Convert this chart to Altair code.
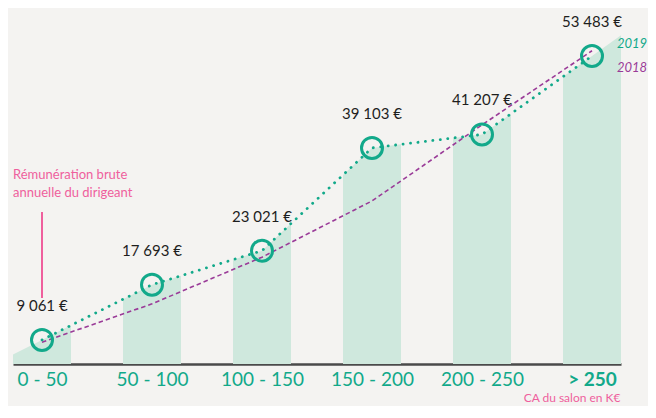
import json
import altair as alt
import pandas as pd

# ---------------- data ----------------
categories = ["0 - 50", "50 - 100", "100 - 150", "150 - 200", "200 - 250", "> 250"]
values_2019 = [9061, 17693, 23021, 39103, 41207, 53483]
values_2018 = [8700, 14700, 22000, 30800, 42700, 54300]
value_labels = ["9 061 €", "17 693 €", "23 021 €", "39 103 €", "41 207 €", "53 483 €"]
series_names = ["2019", "2018"]
annotation_lines = ["Rémunération brute", "annuelle du dirigeant"]
x_title = "CA du salon en K€"

# ---------------- style ----------------
BG = "#f4f3f1"
TEAL = "#12a98a"
AREA = "#cfe8dd"
PURPLE = "#9a3b98"
PINK = "#ef5f9d"
INK = "#1e1e1e"
FONT = "Lato"
HALF = 0.2636          # half width of a column, in category units
YMIN, YMAX = 5289, 60992
W, H = 608, 356

idx = list(range(len(categories)))
n = len(categories)

df = pd.DataFrame({
    "i": idx,
    "cat": categories,
    "v2019": values_2019,
    "v2018": values_2018,
    "lab": value_labels,
})

# column shapes: each column's top follows the 2019 line (slopes of adjacent segments)
rows = []
for i, v in enumerate(values_2019):
    sl = (values_2019[i] - values_2019[i - 1]) if i > 0 else (values_2019[1] - values_2019[0])
    sr = (values_2019[i + 1] - values_2019[i]) if i < n - 1 else (values_2019[-1] - values_2019[-2])
    rows.append({"bar": i, "x": i - HALF, "y": v - sl * HALF})
    rows.append({"bar": i, "x": i, "y": v})
    rows.append({"bar": i, "x": i + HALF, "y": v + sr * HALF})
area_df = pd.DataFrame(rows)

xs = alt.Scale(domain=[-HALF, n - 1 + HALF], nice=False, zero=False)
ys = alt.Scale(domain=[YMIN, YMAX], nice=False, zero=False)

label_expr = json.dumps(categories) + "[datum.value]"

x_axis = alt.Axis(
    values=idx,
    labelExpr=label_expr,
    labelColor=TEAL,
    labelFont=FONT,
    labelFontSize=19,
    labelFontWeight={"condition": {"test": f"datum.value == {n-1}", "value": "bold"}, "value": "normal"},
    labelPadding=6,
    ticks=False,
    grid=False,
    domainColor="#4a4a4a",
    domainWidth=2.5,
    title=x_title,
    titleColor=PINK,
    titleFont=FONT,
    titleFontSize=12,
    titleFontWeight="normal",
    titleAlign="right",
    titleBaseline="top",
    titleX=W - 1,
    titleY=28,
)

base = alt.Chart(df)

columns = alt.Chart(area_df).mark_area(color=AREA, opacity=1).encode(
    x=alt.X("x:Q", scale=xs, axis=x_axis),
    y=alt.Y("y:Q", scale=ys, axis=None),
    y2=alt.datum(YMIN),
    detail="bar:N",
)

line18 = base.mark_line(color=PURPLE, strokeWidth=1.6, strokeDash=[4.5, 3]).encode(
    x=alt.X("i:Q", scale=xs),
    y=alt.Y("v2018:Q", scale=ys),
)

line19 = base.mark_line(color=TEAL, strokeWidth=2.8, strokeDash=[0.1, 7.4], strokeCap="round").encode(
    x=alt.X("i:Q", scale=xs),
    y=alt.Y("v2019:Q", scale=ys),
)

circles = base.mark_point(shape="circle", filled=False, size=441, strokeWidth=3, color=TEAL, opacity=1).encode(
    x=alt.X("i:Q", scale=xs),
    y=alt.Y("v2019:Q", scale=ys),
)

labels = base.mark_text(font=FONT, fontSize=15, color=INK, dy=-34, baseline="middle").encode(
    x=alt.X("i:Q", scale=xs),
    y=alt.Y("v2019:Q", scale=ys),
    text="lab:N",
)

last = df.iloc[[n - 1]]
leg19 = alt.Chart(last).mark_text(font=FONT, fontSize=13, fontStyle="italic", color=TEAL,
                                  align="left", baseline="middle", dx=25, dy=-12).encode(
    x=alt.X("i:Q", scale=xs),
    y=alt.Y("v2019:Q", scale=ys),
    text=alt.value(series_names[0]),
)
leg18 = alt.Chart(last).mark_text(font=FONT, fontSize=13, fontStyle="italic", color=PURPLE,
                                  align="left", baseline="middle", dx=25, dy=17).encode(
    x=alt.X("i:Q", scale=xs),
    y=alt.Y("v2018:Q", scale=ys),
    text=alt.value(series_names[1]),
)

first = df.iloc[[0]]
pointer = alt.Chart(first).mark_rule(color=PINK, strokeWidth=2).encode(
    x=alt.X("i:Q", scale=xs),
    y=alt.value(204),
    y2=alt.value(290),
)
annotation = alt.Chart(first).mark_text(font=FONT, fontSize=13, color=PINK, align="left",
                                        baseline="middle", lineHeight=18).encode(
    x=alt.value(0),
    y=alt.value(167),
    text=alt.value(annotation_lines),
)

chart = alt.layer(
    columns, line18, line19, circles, labels, leg19, leg18, pointer, annotation
).properties(
    width=W,
    height=H,
    padding={"left": 5, "top": 0, "right": 27, "bottom": 42},
    autosize=alt.AutoSizeParams(type="none"),
    background=BG,
).configure_view(stroke=None)

chart.save("out.html", embed_options={"renderer": "svg", "actions": False})
